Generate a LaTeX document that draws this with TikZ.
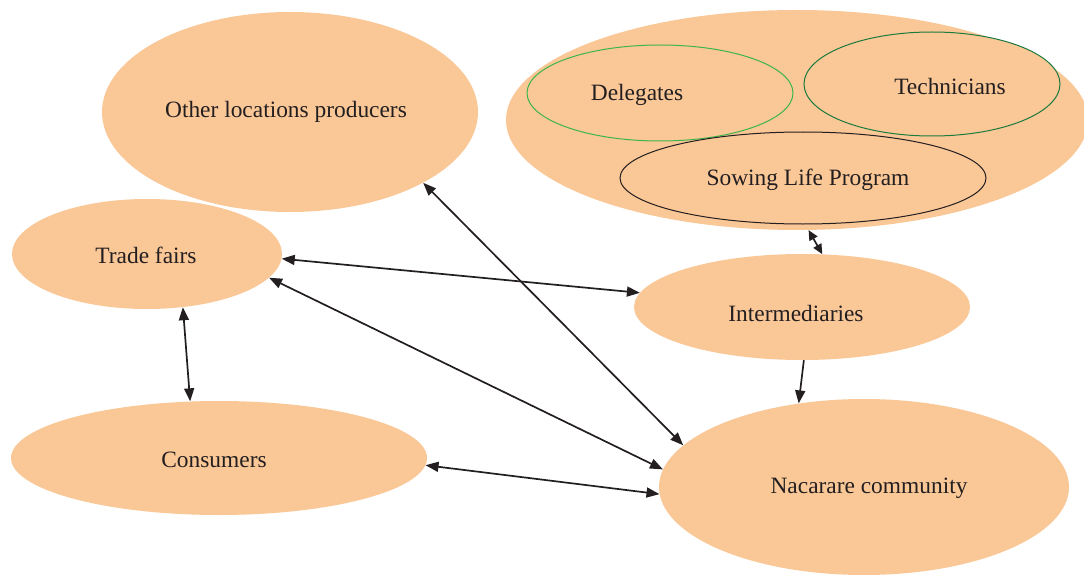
\documentclass[tikz,border=0pt]{standalone}
\usepackage{fontspec}
\setmainfont{Liberation Serif}
\usetikzlibrary{shapes.geometric,arrows.meta}
\definecolor{peach}{HTML}{FAC797}
\definecolor{txt}{HTML}{231F20}
\definecolor{lgreen}{HTML}{3DB54A}
\definecolor{dgreen}{HTML}{1B7A3E}
\tikzset{
  blob/.style={ellipse, fill=peach, draw=none, inner sep=0pt},
  ring/.style={ellipse, fill=peach, inner sep=0pt, line width=1pt},
  lbl/.style={text=txt, font=\fontsize{23.4}{26}\selectfont, inner sep=0pt},
  link/.style={line width=1.7pt, draw=txt, {Triangle[length=13pt,width=10pt]}-{Triangle[length=13pt,width=10pt]}},
  shortlink/.style={line width=1.7pt, draw=txt, {Triangle[length=10pt,width=9pt]}-{Triangle[length=10pt,width=9pt]}},
  onelink/.style={line width=1.7pt, draw=txt, -{Triangle[length=13pt,width=10pt]}}
}
\begin{document}
\begin{tikzpicture}[x=1pt,y=-1pt]
\useasboundingbox (0,0) rectangle (1084,575);
% ellipses
\node[blob, minimum width=376pt, minimum height=200pt] (olp) at (290,112) {};
\node[blob, minimum width=582pt, minimum height=220pt] (prog) at (797,120) {};
\node[ring, draw=lgreen, minimum width=266pt, minimum height=96pt] (del) at (660,93) {};
\node[ring, draw=dgreen, minimum width=256pt, minimum height=104pt] (tec) at (932,84) {};
\node[ring, draw=txt, minimum width=366pt, minimum height=92pt] (slp) at (803,178) {};
\node[blob, minimum width=270pt, minimum height=110pt] (tf) at (147,254) {};
\node[blob, minimum width=336pt, minimum height=106pt] (int) at (802,307) {};
\node[blob, minimum width=416pt, minimum height=114pt] (con) at (219,458) {};
\node[blob, minimum width=410pt, minimum height=176pt] (nac) at (864,487) {};
% labels
\node[lbl] (tolp) at (286,112) {Other locations producers};
\node[lbl] (tdel) at (637,95) {Delegates};
\node[lbl] (ttec) at (950,86) {Technicians};
\node[lbl] (tslp) at (808,180) {Sowing Life Program};
\node[lbl] (ttf) at (146,255) {Trade fairs};
\node[lbl] (tint) at (796,313) {Intermediaries};
\node[lbl] (tcon) at (214,460) {Consumers};
\node[lbl] (tnac) at (869,488) {Nacarare community};
% connectors
\draw[link] (olp.-28.6) -- (nac.167.4);
\draw[link] (tf.-2) -- (int.175.3);
\draw[link] (tf.-11.7) -- (nac.175.5);
\draw[link] (tf.-56) -- (con.117.8);
\draw[link] (con.-2.5) -- (nac.182.2);
\draw[shortlink] (prog.-84) -- (int.69.3);
\draw[onelink] (int.-88) -- (nac.128.2);
\end{tikzpicture}
\end{document}
